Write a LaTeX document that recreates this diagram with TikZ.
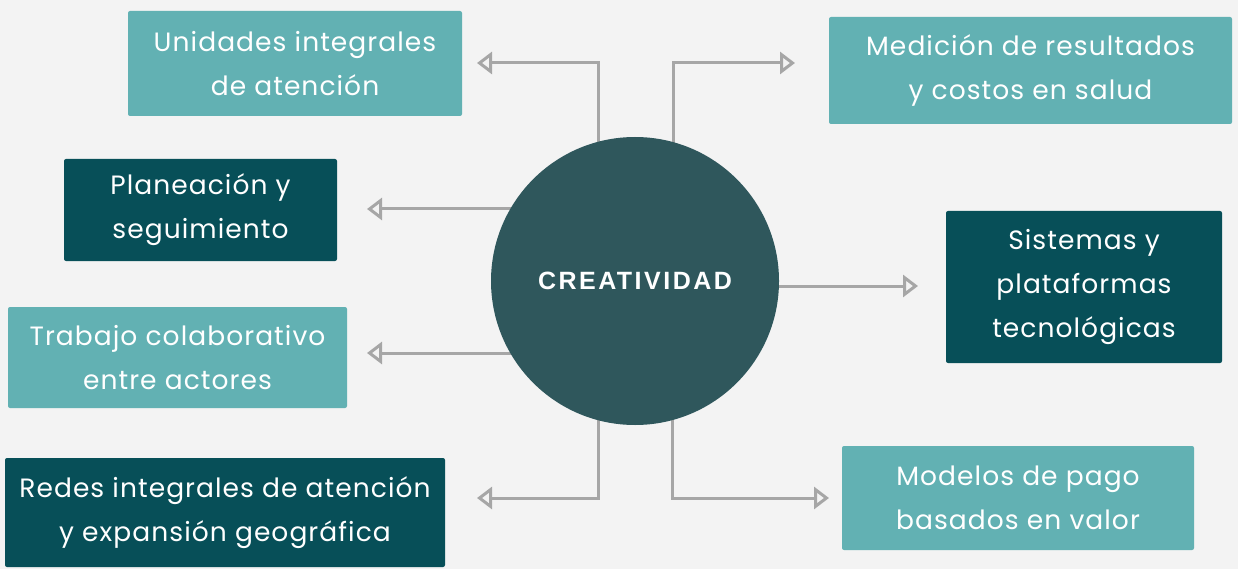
\documentclass[tikz,border=0pt]{standalone}
\usepackage{fontspec}
\setmainfont{Poppins}[LetterSpace=4]
\newfontfamily\ctrfont{Liberation Sans}[LetterSpace=10]
\usetikzlibrary{arrows.meta,backgrounds}
\definecolor{bg}{HTML}{F3F3F3}
\definecolor{lightteal}{HTML}{62B1B3}
\definecolor{darkteal}{HTML}{074F58}
\definecolor{circ}{HTML}{2F575C}
\definecolor{conngray}{HTML}{A6A6A6}
\tikzset{
  box/.style={rounded corners=2pt, inner sep=0pt, align=center, text=white,
    font=\fontsize{26.5}{44}\selectfont},
  lbox/.style={box, fill=lightteal},
  dbox/.style={box, fill=darkteal},
  conn/.style={draw=conngray, line width=3pt,
    -{Triangle[open, length=15pt, width=22pt, line width=3pt]}},
}
\begin{document}
\begin{tikzpicture}[x=1pt,y=-1pt]
\useasboundingbox (0,0) rectangle (1238,569);
\node[lbox, minimum width=334pt, minimum height=105pt] (b1) at (295,63.5) {Unidades integrales\\de atención};
\node[dbox, minimum width=273pt, minimum height=102pt] (b2) at (200.5,210) {Planeación y\\seguimiento};
\node[lbox, minimum width=339pt, minimum height=101pt] (b3) at (177.5,357.5) {Trabajo colaborativo\\entre actores};
\node[dbox, minimum width=440pt, minimum height=109pt] (b4) at (225,512.5) {Redes integrales de atención\\y expansión geográfica};
\node[lbox, minimum width=403pt, minimum height=107pt] (b5) at (1030.5,70.5) {Medición de resultados\\y costos en salud};
\node[dbox, minimum width=276pt, minimum height=152pt] (b6) at (1084,287) {Sistemas y\\plataformas\\tecnológicas};
\node[lbox, minimum width=352pt, minimum height=104pt] (b7) at (1018,498) {Modelos de pago\\basados en valor};
\node[circle, fill=circ, minimum size=288pt, inner sep=0pt, text=white,
  font=\ctrfont\fontsize{25}{28}\selectfont\bfseries] (c) at (635,281) {CREATIVIDAD};
\coordinate (t1) at (477,63);
\coordinate (t2) at (367,209);
\coordinate (t3) at (367,353);
\coordinate (t4) at (477,498);
\coordinate (t5) at (795,63);
\coordinate (t6) at (918,286);
\coordinate (t7) at (829,498);
\coordinate (k1) at (598,0);
\coordinate (k5) at (673,0);
\coordinate (k4) at (598,0);
\coordinate (k7) at (672,0);
\begin{scope}[on background layer]
\fill[bg] (0,0) rectangle (1238,569);
\draw[conn] (k1 |- c.center) |- (t1);
\draw[conn] (k5 |- c.center) |- (t5);
\draw[conn] (c.center |- t2) -- (t2);
\draw[conn] (c.center |- t3) -- (t3);
\draw[conn] (c.center |- t6) -- (t6);
\draw[conn] (k4 |- c.center) |- (t4);
\draw[conn] (k7 |- c.center) |- (t7);
\end{scope}
\end{tikzpicture}
\end{document}
